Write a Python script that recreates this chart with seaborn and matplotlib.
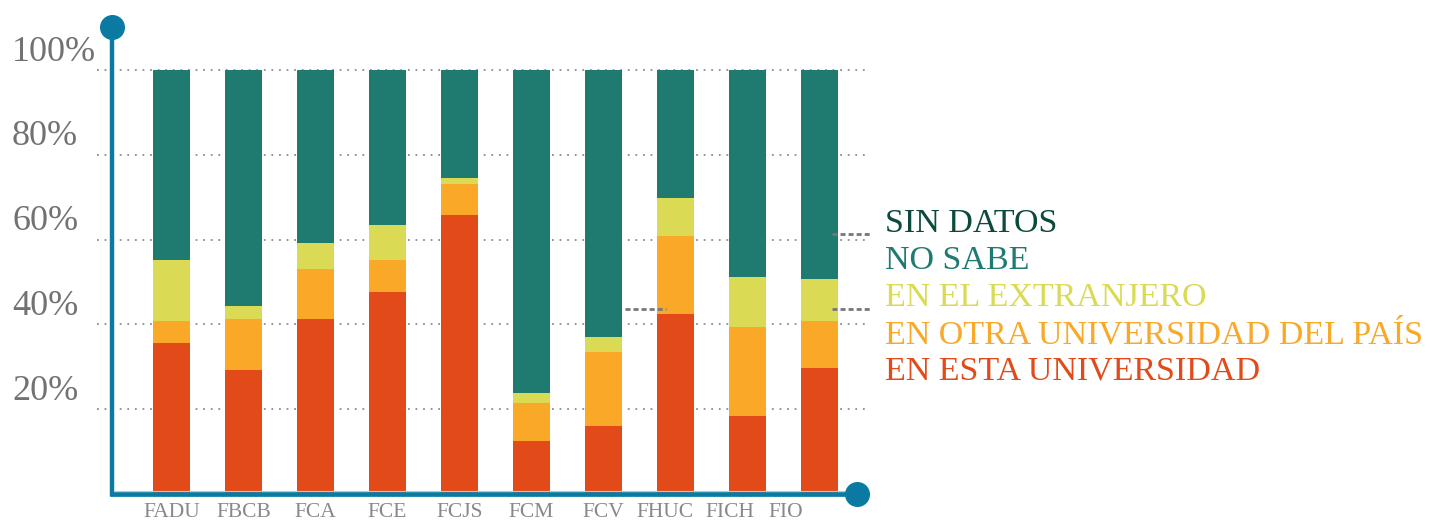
import pandas as pd
import matplotlib
matplotlib.use("Agg")
import matplotlib.pyplot as plt
import matplotlib.transforms as mtransforms
import seaborn as sns

# -----------------------------
# 1. Data (percent of graduates per faculty)
# -----------------------------
facultades = ["FADU", "FBCB", "FCA", "FCE", "FCJS", "FCM", "FCV", "FHUC", "FICH", "FIO"]
esta_universidad = [35.7, 29.2, 41.3, 47.6, 65.8, 12.4, 16.0, 42.4, 18.3, 29.7]
otra_universidad = [5.1, 12.1, 11.8, 7.7, 7.3, 9.0, 17.5, 18.4, 21.0, 11.1]
extranjero = [14.4, 3.0, 6.1, 8.1, 1.4, 2.4, 3.5, 9.0, 11.8, 9.9]
no_sabe = [44.8, 55.7, 40.8, 36.6, 25.5, 76.2, 63.0, 30.2, 48.9, 49.3]
sin_datos = [0, 0, 0, 0, 0, 0, 0, 0, 0, 0]

series = ["EN ESTA UNIVERSIDAD", "EN OTRA UNIVERSIDAD DEL PAÍS",
          "EN EL EXTRANJERO", "NO SABE", "SIN DATOS"]
colors = ["#e34a19", "#f9a827", "#dada55", "#1f7b6f", "#0c4a3e"]

df = pd.DataFrame({
    "facultad": facultades,
    series[0]: esta_universidad,
    series[1]: otra_universidad,
    series[2]: extranjero,
    series[3]: no_sabe,
    series[4]: sin_datos,
})
cum = df[series].cumsum(axis=1)
cum["facultad"] = df["facultad"]

# -----------------------------
# 2. Basic setup
# -----------------------------
sns.set_theme(style="white")
plt.rcParams["font.family"] = ["Liberation Serif", "DejaVu Serif"]

blue = "#0a7aa3"
grey = "#727275"

fig = plt.figure(figsize=(14.33, 5.21), dpi=100)
ax = fig.add_axes([112 / 1433, (521 - 493.7) / 521, (869 - 112) / 1433, (493.7 - 26.7) / 521])

# -----------------------------
# 3. Stacked bars (tallest cumulative first)
# -----------------------------
for name, col in reversed(list(zip(series, colors))):
    sns.barplot(data=cum, x="facultad", y=name, color=col, saturation=1,
                width=0.51, errorbar=None, ax=ax, zorder=3,
                linewidth=0, edgecolor="none")

ax.set_xlim(-0.826, 9.69)
ax.set_ylim(0, 110.3)
ax.set_xlabel("")
ax.set_ylabel("")
ax.set_yticks([])

# dotted grid lines, extending a bit left of the axis
for v in [20, 40, 60, 80, 100]:
    ax.hlines(v, -1.035, 9.69, colors="#8c8c8c", linestyles=(0, (1, 3.2)),
              linewidth=1.3, clip_on=False, zorder=1)

# y labels, sitting above their grid line
ytrans = mtransforms.blended_transform_factory(fig.transFigure, ax.transData) + \
    mtransforms.ScaledTranslation(0, 0.18, fig.dpi_scale_trans)
for v in [20, 40, 60, 80, 100]:
    ax.text(12 / 1433, v, f"{v}%", transform=ytrans, ha="left", va="center",
            fontsize=26, color=grey)

# x labels
ax.tick_params(axis="x", length=0, pad=7, labelsize=15.5, labelcolor="#888888")
shifts = {"FHUC": -10, "FICH": -17, "FIO": -34}
for lab in ax.get_xticklabels():
    dx = shifts.get(lab.get_text(), 0)
    lab.set_transform(lab.get_transform() +
                      mtransforms.ScaledTranslation(dx / 100, 0, fig.dpi_scale_trans))

# spines
for s in ["top", "right"]:
    ax.spines[s].set_visible(False)
ax.spines["left"].set_color(blue)
ax.spines["left"].set_linewidth(3.2)
ax.spines["left"].set_zorder(5)
ax.spines["bottom"].set_color(blue)
ax.spines["bottom"].set_linewidth(3.4)
ax.spines["bottom"].set_bounds(-0.826, 9.53)
ax.spines["bottom"].set_zorder(5)
ax.hlines(0.55, -0.80, 9.53, colors="#9fd0e0", linewidth=0.8, clip_on=False, zorder=6)

# end caps
ax.plot([-0.826], [110.3], "o", color=blue, markersize=17, clip_on=False, zorder=7)
ax.plot([9.53], [0], "o", color=blue, markersize=17, clip_on=False, zorder=7)

# dashed leader lines
ax.hlines([61.3, 43.6], 9.17, 9.72, colors="#777777", linestyles=(0, (1.8, 1.1)),
          linewidth=2, clip_on=False, zorder=4)
ax.hlines(43.6, 6.3, 6.87, colors="#777777", linestyles=(0, (1.8, 1.1)),
          linewidth=2, clip_on=False, zorder=4)

# -----------------------------
# 4. Legend as coloured text
# -----------------------------
for i, (name, col) in enumerate(zip(reversed(series), reversed(colors))):
    fig.text(885 / 1433, 1 - (232 + 37 * i) / 521, name, color=col,
             fontsize=24.5, ha="left", va="baseline")

fig.savefig("out.png", dpi=100)
